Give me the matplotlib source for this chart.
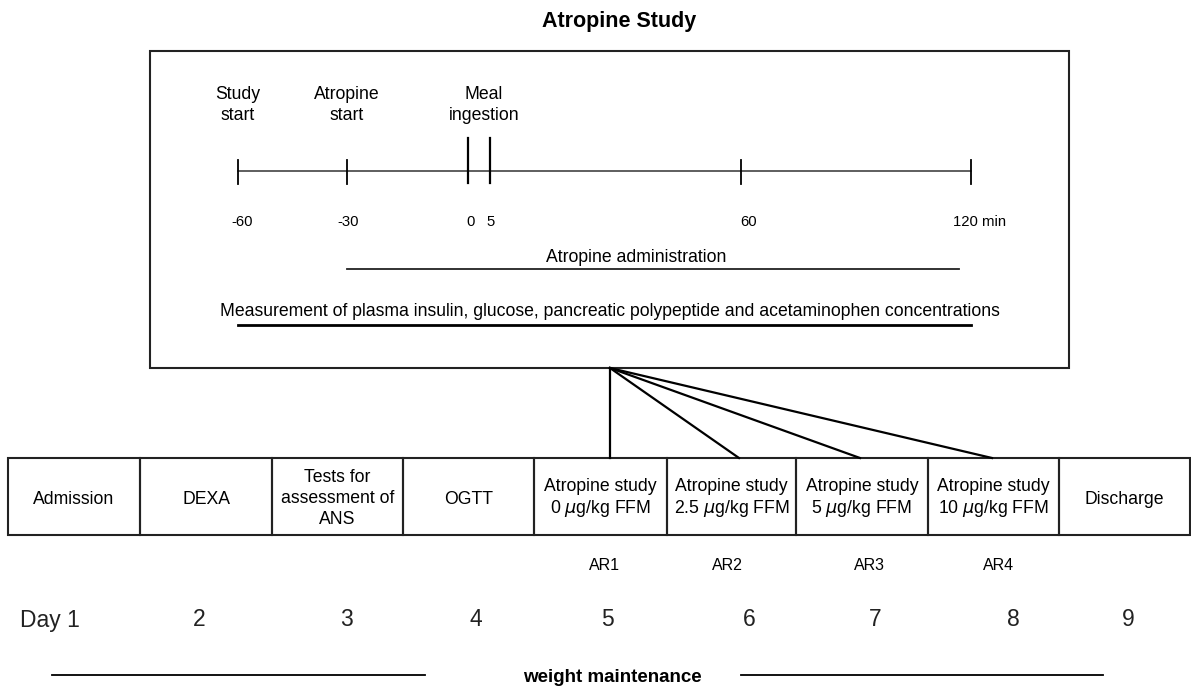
import numpy as np
import matplotlib
matplotlib.use('Agg')
from matplotlib import pyplot as plt
from matplotlib.patches import Rectangle

plt.rcParams['font.family'] = ['Liberation Sans', 'DejaVu Sans']

# timeline of one atropine study day (minutes)
tick_minutes = [-60, -30, 0, 5, 60, 120]
tick_labels = ['-60', '-30', '0', '5', '60', '120 min']
events = ['Study\nstart', 'Atropine\nstart', 'Meal\ningestion']
event_minutes = [-60, -30, 2.5]

# the 9-day protocol
days = ['Day 1', '2', '3', '4', '5', '6', '7', '8', '9']
day_tasks = ['Admission', 'DEXA', 'Tests for\nassessment of\nANS', 'OGTT',
             'Atropine study\n0 $\\mu$g/kg FFM', 'Atropine study\n2.5 $\\mu$g/kg FFM',
             'Atropine study\n5 $\\mu$g/kg FFM', 'Atropine study\n10 $\\mu$g/kg FFM',
             'Discharge']
ar_labels = ['AR1', 'AR2', 'AR3', 'AR4']
ar_days = [5, 6, 7, 8]

# --- layout (pixels): the timeline is schematic, not to scale ---
tick_px = [238, 347, 468, 490, 741, 971]
label_shift = [4, 1, 3, 1, 8, 9]
col_edges = [8, 140, 272, 403, 534, 667, 796, 928, 1059, 1190]
day_x = [50, 199, 346, 476, 607, 749, 875, 1013, 1128]
ar_x = [604, 727, 869, 999]
link_x = [610, 739, 860, 992]


def minute_to_px(m):
    return float(np.interp(m, tick_minutes, tick_px))


fig = plt.figure(figsize=(11.91, 6.9), dpi=100)
ax = fig.add_axes([0, 0, 1, 1])
ax.set_xlim(0, 1191)
ax.set_ylim(690, 0)
ax.axis('off')

body = 12.7
ax.text(619, 22, 'Atropine Study', ha='center', va='center', fontsize=15.5, weight='bold')

# top box with the study-day timeline
ax.add_patch(Rectangle((150, 51), 919, 317, fill=False, lw=1.5, ec='#222222'))

for label, m, dx in zip(events, event_minutes, [0, 0, 5]):
    ax.text(minute_to_px(m) + dx, 105, label, ha='center', va='center', fontsize=body,
            linespacing=1.3)

tl_y = 171
ax.plot([tick_px[0], tick_px[-1]], [tl_y, tl_y], color='#333333', lw=1.1)
for m in tick_minutes:
    x = minute_to_px(m)
    if m in (0, 5):
        ax.plot([x, x], [138, 183], color='black', lw=1.6)
    else:
        ax.plot([x, x], [160, 184], color='black', lw=1.3)

for m, lab, dx in zip(tick_minutes, tick_labels, label_shift):
    ax.text(minute_to_px(m) + dx, 222, lab, ha='center', va='center', fontsize=10.7)

ax.text(636, 257, 'Atropine administration', ha='center', va='center', fontsize=body)
ax.plot([minute_to_px(-30), 959], [269, 269], color='#222222', lw=1.3)
ax.text(610, 311,
        'Measurement of plasma insulin, glucose, pancreatic polypeptide and acetaminophen concentrations',
        ha='center', va='center', fontsize=body)
ax.plot([minute_to_px(-60), minute_to_px(120)], [325, 325], color='black', lw=2.0)

# day row
row_top, row_bot = 458, 535
for i, task in enumerate(day_tasks):
    x0, x1 = col_edges[i], col_edges[i + 1]
    ax.add_patch(Rectangle((x0, row_top), x1 - x0, row_bot - row_top,
                           fill=False, lw=1.5, ec='#222222'))
    n_lines = task.count('\n') + 1
    cy = (row_top + row_bot) / 2 + (3 if n_lines == 1 else 2)
    ax.text((x0 + x1) / 2, cy, task, ha='center', va='center', fontsize=body,
            linespacing=1.3 if n_lines == 3 else 1.25)

# connectors from the study box to each atropine day
for x in link_x:
    ax.plot([610, x], [368, row_top], color='black', lw=1.6)

for lab, x in zip(ar_labels, ar_x):
    ax.text(x, 565, lab, ha='center', va='center', fontsize=11.5)

for lab, x in zip(days, day_x):
    ax.text(x, 620, lab, ha='center', va='center', fontsize=16.5, color='#222222')

ax.text(612, 677, 'weight maintenance', ha='center', va='center', fontsize=13.5, weight='bold')
ax.plot([52, 425], [675, 675], color='black', lw=1.3)
ax.plot([741, 1103], [675, 675], color='black', lw=1.3)

fig.savefig('out.png', dpi=100, facecolor='white')
